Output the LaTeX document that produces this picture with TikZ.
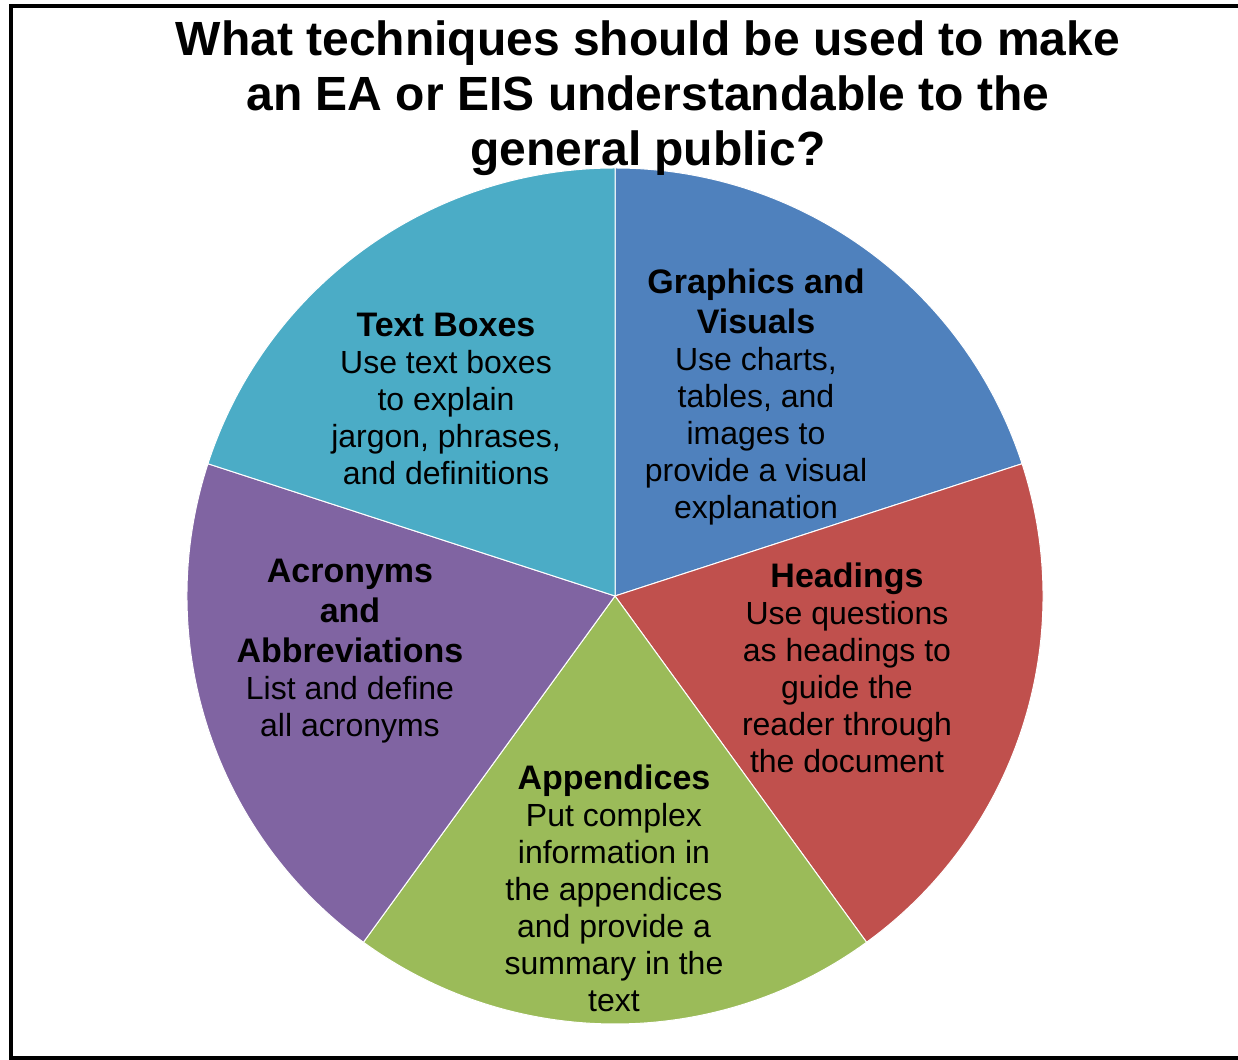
\documentclass[tikz,border=0pt]{standalone}
\usepackage{fontspec}
\setmainfont{Liberation Sans}
\usetikzlibrary{positioning}
\definecolor{tealsl}{RGB}{75,172,198}
\definecolor{bluesl}{RGB}{79,129,189}
\definecolor{redsl}{RGB}{192,80,77}
\definecolor{greensl}{RGB}{155,187,89}
\definecolor{purplesl}{RGB}{128,100,162}
\newcommand{\hdfont}{\fontsize{17}{20}\selectfont\bfseries}
\newcommand{\txfont}{\fontsize{16}{18.5}\selectfont}
\tikzset{
  slc/.style ={draw=white, line width=0.5pt},
  lbl/.style ={align=center, inner sep=0pt, font=\txfont},
  ttl/.style ={align=center, inner sep=0pt, font=\fontsize{24}{27.5}\selectfont\bfseries},
  frm/.style ={draw=black, line width=1.6pt},
}

\begin{document}
\begin{tikzpicture}[x=0.5pt,y=0.5pt]
\useasboundingbox (0,0) rectangle (1238,1060);
\draw[frm] (1250,1054) -- (11,1054) -- (11,2) -- (1250,2);
\coordinate (pc) at (615,464);
% five equal slices, clockwise from the top
\foreach \a/\b/\c in {90/18/bluesl, 18/-54/redsl, -54/-126/greensl,
                      -126/-198/purplesl, 162/90/tealsl}
  \filldraw[slc, fill=\c] (pc) -- ++(\a:428) arc[start angle=\a, end angle=\b, radius=428] -- cycle;
\node[ttl] (title) at (648,962) {What techniques should be used to make\\ an EA or EIS understandable to the\\ general public?};
\node[lbl] (tbox) at (446,661) {{\hdfont Text Boxes}\\ Use text boxes\\ to explain\\ jargon, phrases,\\ and definitions};
\node[lbl] (graph) at (756,663) {{\hdfont Graphics and}\\[1.5pt] {\hdfont Visuals}\\ Use charts,\\ tables, and\\ images to\\ provide a visual\\ explanation};
\node[lbl] (head) at (847,392) {{\hdfont Headings}\\ Use questions\\ as headings to\\ guide the\\ reader through\\ the document};
\node[lbl] (app) at (614,172) {{\hdfont Appendices}\\ Put complex\\ information in\\ the appendices\\ and provide a\\ summary in the\\ text};
\node[lbl] (acro) at (350,409) {{\hdfont Acronyms}\\[1.5pt] {\hdfont and}\\[1.5pt] {\hdfont Abbreviations}\\ List and define\\ all acronyms};
\end{tikzpicture}
\end{document}
